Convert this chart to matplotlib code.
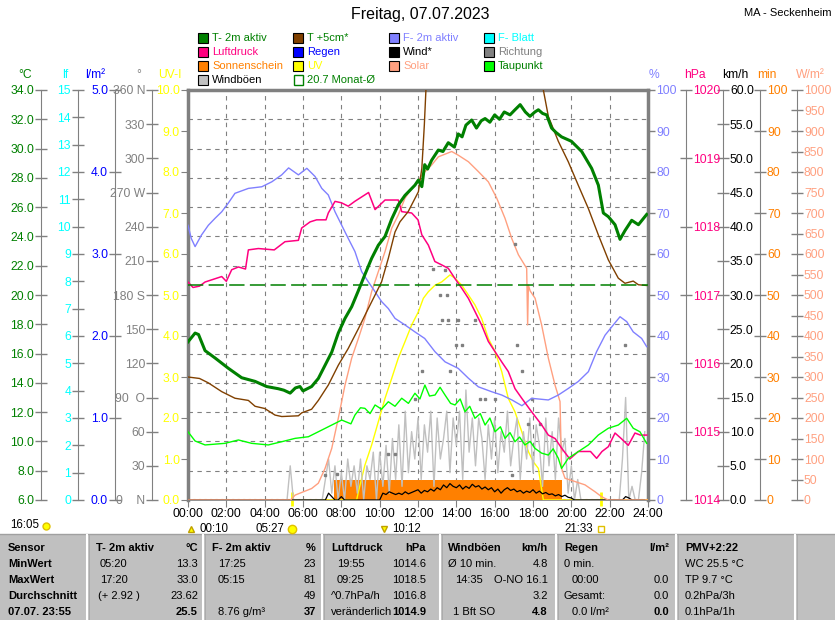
import numpy as np
import matplotlib
matplotlib.use("Agg")
import matplotlib.pyplot as plt
from matplotlib.patches import Rectangle
from matplotlib.ticker import FixedLocator

plt.rcParams["font.family"] = ["Liberation Sans", "DejaVu Sans"]

# --- Messwerte 07.07.2023 (Stunden, Werte) ---
t2m_h = [0.0, 0.37, 0.55, 0.89, 1.41, 2.1, 2.8, 3.5, 4.1, 4.71, 5.0, 5.33, 5.6, 5.84, 6.0,
         6.45, 6.8, 7.15, 7.5, 7.84, 8.19, 8.54, 8.89, 9.23, 9.58, 9.93, 10.28, 10.63, 10.97,
         11.32, 11.84, 12.02, 12.2, 12.35, 12.5, 12.71, 13.06, 13.3, 13.58, 13.9, 14.1, 14.3,
         14.5, 14.8, 15.05, 15.3, 15.5, 15.75, 16.0, 16.25, 16.5, 16.8, 17.06, 17.33, 17.6,
         17.84, 18.1, 18.28, 18.5, 18.71, 18.97, 19.2, 19.49, 20.0, 20.54, 21.06, 21.41, 21.67,
         21.93, 22.28, 22.54, 22.8, 23.15, 23.5, 23.93]
t2m = [16.8, 17.4, 17.3, 16.2, 15.7, 15.0, 14.35, 14.1, 13.75, 13.6, 13.5, 13.3, 13.65, 13.75,
       13.45, 13.75, 14.3, 15.2, 16.1, 17.4, 18.4, 19.2, 20.3, 21.4, 22.5, 23.4, 24.0, 25.2,
       26.15, 26.8, 27.5, 27.85, 27.4, 28.9, 28.6, 29.2, 29.9, 29.8, 30.4, 30.1, 31.0, 30.8,
       31.6, 31.95, 31.4, 31.9, 32.05, 31.8, 32.3, 32.0, 32.5, 32.3, 32.65, 33.0, 32.5, 32.2,
       32.5, 32.65, 32.4, 32.3, 31.4, 31.1, 30.8, 30.5, 29.8, 28.65, 27.5, 25.6, 25.35, 24.8,
       23.8, 24.4, 25.1, 24.8, 25.5]

t5_h = [0.0, 0.6, 1.06, 1.76, 2.45, 3.15, 3.5, 4.0, 4.54, 4.89, 5.76, 5.93, 6.45, 6.8, 7.32,
        7.84, 8.36, 8.89, 9.32, 9.76, 10.1, 10.45, 10.8, 11.06, 11.49, 12.02, 12.2, 12.33,
        12.42, 13.0, 14.0, 15.0, 16.0, 17.0, 18.0, 18.54, 18.8, 19.32, 19.84, 20.36, 20.89,
        21.41, 21.93, 22.45, 22.8, 23.23, 23.5, 23.93]
t5 = [14.4, 14.3, 14.0, 13.4, 12.95, 12.8, 12.4, 12.25, 11.8, 11.7, 11.75, 11.95, 12.2, 12.8,
      13.85, 15.2, 16.35, 17.7, 18.85, 20.0, 20.9, 22.5, 24.3, 25.0, 25.7, 27.05, 28.65, 31.6,
      34.2, 40.0, 44.0, 46.0, 46.0, 44.0, 40.0, 34.0, 32.2, 30.5, 29.1, 27.5, 25.9, 24.1,
      22.4, 21.15, 20.8, 20.95, 20.7, 20.65]

rh_h = [0.0, 0.17, 0.37, 0.7, 1.06, 1.41, 1.76, 2.1, 2.45, 3.15, 3.85, 4.37, 4.89, 5.25, 5.76,
        6.2, 6.63, 6.98, 7.32, 7.67, 8.02, 8.36, 8.71, 9.06, 9.41, 9.76, 10.1, 10.45, 10.8,
        11.32, 11.84, 12.35, 12.88, 13.41, 14.1, 14.63, 15.15, 15.85, 16.37, 16.9, 17.42,
        17.93, 18.8, 19.32, 19.84, 20.36, 20.89, 21.32, 21.76, 22.19, 22.54, 22.89, 23.23,
        23.67, 23.93]
rh = [67, 63.8, 61.8, 64.6, 67, 68.7, 70.3, 72.4, 74.8, 76, 76.4, 77.6, 79.3, 81, 79.3, 80.9,
      78.9, 76, 74.4, 70.3, 67, 63.8, 60.6, 55.7, 53.2, 50.8, 48.4, 46.7, 44.3, 42.7, 41.0,
      39.4, 36.2, 33.7, 32.1, 29.7, 27.6, 26.4, 25.6, 24.4, 23.0, 24.8, 24.4, 25.6, 27.2,
      28.9, 31.3, 36.2, 40.2, 42.7, 44.7, 43.5, 41.0, 39.4, 37.4]

p_h = [0.0, 0.26, 0.6, 0.89, 1.76, 2.0, 2.28, 2.63, 3.0, 3.15, 3.67, 4.5, 5.06, 5.76, 5.93,
       6.37, 6.71, 7.2, 7.32, 7.67, 8.0, 8.36, 8.7, 9.42, 9.76, 10.28, 10.97, 11.15, 11.67,
       12.0, 12.2, 12.54, 12.88, 13.24, 13.58, 13.93, 14.28, 14.63, 14.97, 15.32, 15.67,
       16.02, 16.37, 16.71, 17.06, 17.41, 17.93, 18.45, 18.8, 19.15, 19.49, 19.92, 20.36,
       21.0, 21.32, 21.6, 21.93, 22.28, 22.6, 22.97, 23.32, 23.6, 23.93]
p = [1017.19, 1017.11, 1017.13, 1017.19, 1017.27, 1017.2, 1017.37, 1017.41, 1017.38, 1017.66,
     1017.68, 1017.66, 1017.78, 1017.8, 1017.98, 1018.07, 1018.1, 1018.1, 1018.2, 1018.37,
     1018.35, 1018.3, 1018.37, 1018.5, 1018.25, 1018.39, 1018.39, 1018.22, 1018.2, 1018.1,
     1017.88, 1017.73, 1017.49, 1017.44, 1017.39, 1017.24, 1017.1, 1016.95, 1016.76,
     1016.56, 1016.32, 1016.17, 1016.02, 1015.88, 1015.63, 1015.49, 1015.29, 1015.1,
     1014.95, 1014.9, 1014.76, 1014.6, 1014.71, 1014.71, 1014.61, 1014.71, 1014.78,
     1014.98, 1014.9, 1014.8, 1014.98, 1014.95, 1014.95]

dp_h = [0.0, 0.37, 0.89, 1.93, 2.63, 3.32, 4.19, 4.89, 5.59, 6.28, 6.8, 7.5, 8.02, 8.5, 8.71,
        9.0, 9.23, 9.5, 9.76, 10.1, 10.45, 10.8, 11.15, 11.5, 11.84, 12.1, 12.36, 12.6, 12.89,
        13.15, 13.41, 13.7, 13.93, 14.2, 14.45, 14.7, 14.97, 15.25, 15.5, 15.75, 16.02, 16.3,
        16.54, 16.8, 17.06, 17.3, 17.58, 17.85, 18.1, 18.45, 18.8, 19.05, 19.32, 19.49,
        19.84, 20.36, 20.89, 21.41, 21.93, 22.45, 22.89, 23.23, 23.58, 23.93]
dp = [10.66, 10.03, 9.76, 9.87, 10.1, 9.87, 9.76, 9.98, 10.21, 10.32, 10.66, 11.12, 11.46,
      11.2, 11.8, 12.3, 12.26, 11.9, 12.49, 12.2, 12.71, 12.4, 12.95, 12.6, 13.29, 12.9,
      13.85, 13.1, 13.17, 13.7, 13.17, 12.6, 12.49, 12.9, 12.03, 12.4, 11.58, 11.9, 11.12,
      11.6, 10.66, 11.0, 10.21, 10.6, 9.98, 10.3, 9.76, 10.0, 9.53, 9.2, 9.07, 9.5, 8.85,
      8.16, 8.85, 9.3, 9.76, 10.44, 10.9, 11.12, 11.58, 10.9, 10.66, 9.87]

sol_h = [0.0, 5.35, 5.59, 6.45, 6.8, 7.15, 7.5, 7.84, 8.19, 8.54, 8.89, 9.23, 9.58, 9.93,
         10.28, 10.63, 10.97, 11.32, 11.67, 12.02, 12.2, 12.71, 13.06, 13.76, 14.1, 14.63,
         15.15, 15.67, 16.11, 16.54, 16.89, 17.24, 17.67, 17.72, 17.76, 17.85, 18.11, 18.45,
         18.8, 19.15, 19.41, 19.49, 19.67, 20.19, 20.71, 21.24, 21.58, 21.93, 24.0]
solar = [0, 0, 12, 28, 41, 77, 126, 199, 280, 346, 394, 443, 508, 557, 606, 663, 695, 736,
         760, 776, 793, 817, 837, 850, 841, 825, 801, 776, 736, 687, 638, 598, 565, 427, 524,
         510, 492, 427, 346, 280, 240, 77, 53, 45, 37, 20, 8, 0, 0]

uv_h = [0.0, 8.8, 8.89, 9.23, 9.58, 9.93, 10.28, 10.63, 10.97, 11.32, 11.67, 12.02, 12.28,
        12.54, 12.89, 13.24, 13.67, 13.93, 14.28, 14.63, 14.97, 15.32, 15.67, 16.02, 16.37,
        16.71, 17.06, 17.41, 17.76, 18.02, 18.28, 18.54, 24.0]
uv = [0, 0, 0.2, 0.85, 1.34, 1.91, 2.48, 2.97, 3.46, 3.86, 4.27, 4.59, 4.92, 5.08, 5.24, 5.32,
      5.49, 5.41, 5.24, 5.0, 4.76, 4.43, 3.94, 3.62, 3.13, 2.48, 2.15, 1.67, 1.18, 0.93, 0.77,
      0, 0]

# Windböen / Wind im 10-Minuten-Takt (km/h)
boeen = [0, 0, 0, 0, 0, 0,  0, 0, 0, 0, 0, 0,  0, 0, 0, 0, 0, 0,  0, 0, 0, 0, 0, 0,
         0, 0, 0, 0, 0, 0,  0, 0, 5, 0, 0, 0,  0, 0, 0, 0, 0, 0,  0, 3, 6, 1, 5, 0,
         4, 0, 6, 2, 5, 1,  6, 0, 5, 3, 7, 0,  7, 2, 8, 1, 9, 3,  11, 2, 13, 4, 10, 6,
         12, 3, 11, 7, 13, 2,  12, 6, 9, 13, 4, 12,  8, 13, 3, 16.1, 7, 12,
         5, 12, 9, 3, 11, 6,  12, 4, 10, 7, 13, 5,  9, 12, 3, 10, 6, 12,
         4, 11, 8, 2, 12, 5,  10, 3, 12, 7, 9, 1,  5, 0, 3, 0, 0, 0,
         0, 0, 0, 0, 0, 0,  0, 0, 0, 0, 6, 15,  0, 2, 0, 0, 4, 10]
wind = [0, 0, 0, 0, 0, 0,  0, 0, 0, 0, 0, 0,  0, 0, 0, 0, 0, 0,  0, 0, 0, 0, 0, 0,
        0, 0, 0, 0, 0, 0,  0, 0, 0, 0, 0, 0,  0, 0, 0, 0, 0, 0,  0, 0, 1, 0.5, 0, 0,
        0.5, 0, 0, 0, 0, 0,  0, 0, 0, 0, 0, 0,  0, 1, 0.8, 1.2, 1, 0.8,
        1, 0.8, 1.2, 0.9, 1.1, 1.3,  1.5, 1.0, 1.4, 1.2, 1.6, 1.3,
        1.8, 1.5, 2.2, 1.8, 2.4, 2.0,  1.8, 2.2, 1.6, 2.0, 1.7, 2.3,
        1.9, 2.1, 1.6, 1.9, 1.5, 1.8,  1.2, 1.6, 1.0, 1.5, 1.8, 1.4,
        1.6, 1.2, 1.4, 1.0, 1.3, 1.1,  1.5, 1.0, 1.3, 0.9, 1.1, 0.8,
        0.9, 0.6, 0.8, 0.5, 0.7, 0.4,  0.3, 0, 0, 0, 0, 0,
        0, 0, 0, 0, 0, 0,  0, 0, 0, 0, 0, 0.5,  0.3, 0, 0, 0, 0, 0]

richt_h = [7.15, 7.76, 10.45, 10.8, 11.84, 12.19, 12.8, 13.15, 13.24, 13.41, 13.5, 13.58, 13.67,
           14.0, 14.1, 14.28, 14.97, 15.23, 15.5, 16.02, 16.89, 17.06, 17.15, 17.41, 17.76,
           17.93, 18.37, 22.8]
richt = [22, 23, 40, 40, 89, 113, 203, 180, 158, 202, 180, 158, 113, 136, 158, 136, 158, 89,
         89, 89, 22, 225, 136, 113, 67, 89, 67, 136]

sonne_von, sonne_bis, sonne_min = 7.6, 19.5, 5.0
monat_mittel = 20.7

# Auf-/Untergänge
ereignis_h = [10 / 60, 5 + 27 / 60, 10 + 12 / 60, 21 + 33 / 60]
ereignis_txt = ["00:10", "05:27", "10:12", "21:33"]
ereignis_art = ["mond_auf", "sonne_auf", "mond_unter", "sonne_unter"]

# --- Farben ---
GRAU = "#808080"
C_T, C_T5, C_RH, C_LEAF = "#008000", "#804000", "#8080FF", "#00FFFF"
C_P, C_RAIN, C_WIND, C_DIR = "#FF0080", "#0000FF", "#000000", "#808080"
C_SUN, C_UV, C_SOLAR, C_DEW, C_GUST = "#FF8000", "#FFFF00", "#FFA080", "#00FF00", "#C0C0C0"
TICKFS = 8.7
EREIGNIS_Y = -0.071

W, H = 835, 620
fig = plt.figure(figsize=(W / 100, H / 100), dpi=100)
fig.patch.set_facecolor("white")

deco = fig.add_axes([0, 0, 1, 1])
deco.set_xlim(0, W)
deco.set_ylim(H, 0)
deco.axis("off")

ax = fig.add_axes([188 / W, 1 - 500 / H, 460 / W, 410 / H])
ax.set_xlim(0, 24)
ax.set_ylim(0, 10)
ax.set_xticks(range(0, 25, 2))
ax.set_xticklabels([f"{h:02d}:00" for h in range(0, 25, 2)])
ax.set_yticks(range(0, 11))
ax.set_yticklabels([f"{v:.1f}" for v in range(0, 11)])
ax.yaxis.set_minor_locator(FixedLocator(np.linspace(0, 10, 15)))
ax.tick_params(axis="x", colors=GRAU, labelcolor="black", length=5, labelsize=TICKFS, pad=0.5)
ax.tick_params(axis="y", which="major", colors=GRAU, labelcolor=C_UV, length=5,
               labelsize=TICKFS, pad=1)
ax.tick_params(axis="y", which="minor", length=0)
ax.grid(True, axis="x", which="major", color=GRAU, ls=(0, (4, 4)), lw=0.8)
ax.grid(True, axis="y", which="minor", color=GRAU, ls=(0, (4, 4)), lw=0.8)
for name in ["left", "top", "right"]:
    ax.spines[name].set_color(GRAU)
    ax.spines[name].set_linewidth(2.5)
ax.spines["bottom"].set_color(GRAU)
ax.spines["bottom"].set_linewidth(1.2)


def seitenachse(pos, seite, farbe, lo, hi, ticks, labels, laenge=8, richtung="inout"):
    a = ax.twinx()
    a.set_ylim(lo, hi)
    for s in a.spines.values():
        s.set_visible(False)
    sp = a.spines[seite]
    sp.set_visible(True)
    sp.set_position(("axes", pos))
    sp.set_color(GRAU)
    if seite == "left":
        a.yaxis.tick_left()
    else:
        a.yaxis.tick_right()
    a.set_yticks(ticks)
    a.set_yticklabels(labels)
    a.tick_params(axis="y", colors=GRAU, labelcolor=farbe, direction=richtung,
                  length=laenge, width=1, labelsize=TICKFS, pad=1)
    return a


def leer_achse(lo, hi):
    a = ax.twinx()
    a.set_ylim(lo, hi)
    a.axis("off")
    return a


# Sonnenschein (min)
ax_min = seitenachse(1.2435, "right", C_SUN, 0, 100, range(0, 101, 10),
                     [str(v) for v in range(0, 101, 10)])
ax_min.bar(sonne_von, sonne_min, width=sonne_bis - sonne_von, align="edge",
           color=C_SUN, lw=0)
ax_min.axhline(0, color=C_SUN, lw=1.5, ls=":")

# UV
ax_uv = leer_achse(0, 10)
ax_uv.plot(uv_h, uv, color=C_UV, lw=1)

# Wind / Böen (km/h)
ax_kmh = seitenachse(1.163, "right", "black", 0, 60, np.arange(0, 61, 5),
                     [f"{v:.1f}" for v in np.arange(0, 61, 5)])
t10 = np.arange(len(boeen)) / 6
ax_kmh.plot(t10, boeen, color=C_GUST, lw=1)
ax_kmh.plot(t10, wind, color=C_WIND, lw=0.9)

# Solar (W/m²)
ax_wm2 = seitenachse(1.3239, "right", C_SOLAR, 0, 1000, range(0, 1001, 50),
                     [str(v) for v in range(0, 1001, 50)])
ax_wm2.plot(sol_h, solar, color=C_SOLAR, lw=1)

# Richtung (°)
richt_lab = {360: "360 N", 270: "270 W", 180: "180 S", 90: "90  O", 0: "0    N"}
ax_deg = seitenachse(-0.0783, "left", GRAU, 0, 360, range(0, 361, 30),
                     [richt_lab.get(v, str(v)) for v in range(0, 361, 30)])
ax_deg.plot(richt_h, richt, ls="none", marker="s", ms=1.8, color=C_DIR)

# Feuchte (%)
ax_pct = seitenachse(1.0, "right", C_RH, 0, 100, range(0, 101, 10),
                     [str(v) for v in range(0, 101, 10)], laenge=5, richtung="out")
ax_pct.spines["right"].set_visible(False)
ax_pct.plot(rh_h, rh, color=C_RH, lw=1)

# Luftdruck (hPa)
ax_hpa = seitenachse(1.0826, "right", C_P, 1014, 1020, range(1014, 1021),
                     [str(v) for v in range(1014, 1021)])
ax_hpa.plot(p_h, p, color=C_P, lw=1.1)

# Blattfeuchte (lf), Regen (l/m²) - keine Werte an diesem Tag
ax_lf = seitenachse(-0.2391, "left", C_LEAF, 0, 15, range(0, 16),
                    [str(v) for v in range(0, 16)])
ax_lm2 = seitenachse(-0.1587, "left", C_RAIN, 0, 5, range(0, 6),
                     [f"{v:.1f}" for v in range(0, 6)])

# Temperaturen (°C)
ax_c = seitenachse(-0.3196, "left", C_T, 6, 34, np.arange(6, 35, 2),
                   [f"{v:.1f}" for v in np.arange(6, 35, 2)])
ax_c.plot(dp_h, dp, color=C_DEW, lw=1)
ax_c.plot(t5_h, t5, color=C_T5, lw=1)
ax_c.axhline(monat_mittel, color=C_T, lw=1.1, dashes=(10, 3.5))
ax_c.plot(t2m_h, t2m, color=C_T, lw=2.2)

# Auf-/Untergänge unter der Zeitachse
xt = ax.get_xaxis_transform()
for h, txt, art in zip(ereignis_h, ereignis_txt, ereignis_art):
    if art.startswith("sonne"):
        ax.vlines(h, -0.015, 0.02, color=C_UV, lw=2, transform=xt, clip_on=False)
        marker = "o" if art == "sonne_auf" else "s"
        ax.plot(h, EREIGNIS_Y, marker=marker, ms=6 if marker == "o" else 4, transform=xt,
                clip_on=False, color=C_UV, mfc=C_UV if marker == "o" else "white",
                mec="#E0C000")
        ax.annotate(txt, (h, EREIGNIS_Y), xycoords=xt, xytext=(-6, 0),
                    textcoords="offset points", ha="right", va="center", fontsize=8.3)
    else:
        marker = "^" if art == "mond_auf" else "v"
        ax.plot(h, EREIGNIS_Y, marker=marker, ms=5, transform=xt, clip_on=False,
                color=C_UV, mec="#C0A000")
        ax.annotate(txt, (h, EREIGNIS_Y), xycoords=xt, xytext=(6, 0),
                    textcoords="offset points", ha="left", va="center", fontsize=8.3)

deco.text(10, 525, "16:05", fontsize=8.3, va="center")
deco.plot(46, 526, marker="o", ms=5, color=C_UV, mec="#E0C000")

# --- Titel ---
deco.text(420, 15, "Freitag, 07.07.2023", fontsize=11.5, ha="center", va="center")
deco.text(832, 13, "MA - Seckenheim", fontsize=8, ha="right", va="center")

# --- Einheiten ---
for x, txt, c in [(25, "°C", C_T), (65, "lf", C_LEAF), (95, "l/m²", C_RAIN),
                  (139, "°", GRAU), (170, "UV-I", C_UV), (654, "%", C_RH),
                  (695, "hPa", C_P), (735, "km/h", "black"), (767, "min", C_SUN),
                  (810, "W/m²", C_SOLAR)]:
    deco.text(x, 75, txt, color=c, fontsize=TICKFS, ha="center", va="center")

# --- Legende ---
legende = [
    (198, 38, "T- 2m aktiv", C_T, C_T), (293, 38, "T +5cm*", C_T5, C_T),
    (389, 38, "F- 2m aktiv", C_RH, C_RH), (484, 38, "F- Blatt", C_LEAF, C_LEAF),
    (198, 52, "Luftdruck", C_P, C_P), (293, 52, "Regen", C_RAIN, C_RAIN),
    (389, 52, "Wind*", C_WIND, "black"), (484, 52, "Richtung", C_DIR, C_DIR),
    (198, 66, "Sonnenschein", C_SUN, C_SUN), (293, 66, "UV", C_UV, C_UV),
    (389, 66, "Solar", C_SOLAR, C_SOLAR), (484, 66, "Taupunkt", C_DEW, C_T),
    (198, 80, "Windböen", C_GUST, "black"),
]
for x, y, txt, fc, tc in legende:
    deco.add_patch(Rectangle((x, y - 5), 10, 10, fc=fc, ec="black", lw=0.8))
    deco.text(x + 14, y, txt, color=tc, fontsize=8, va="center")
deco.add_patch(Rectangle((294, 75), 9, 10, fc="none", ec=C_T, lw=1))
deco.text(307, 80, f"{monat_mittel} Monat-Ø", color=C_T, fontsize=8, va="center")

# --- Tabelle ---
deco.add_patch(Rectangle((0, 534), W, 86, fc="#C0C0C0", ec="none"))
deco.plot([0, W], [533.5, 533.5], color="#A0A0A0", lw=1)
for x in [87, 203, 322, 440, 556, 676, 795]:
    deco.plot([x, x], [535, H], color="white", lw=1.5)
    deco.plot([x + 1.5, x + 1.5], [535, H], color="#A8A8A8", lw=0.6)

zeilen_y = [548, 564, 580, 596, 612]
links = [
    [(8, "Sensor", True), (8, "MinWert", True), (8, "MaxWert", True),
     (8, "Durchschnitt", True), (8, "07.07. 23:55", True)],
    [(96, "T- 2m aktiv", True), (100, "05:20", False), (100, "17:20", False),
     (98, "(+ 2.92 )", False), (98, "", False)],
    [(212, "F- 2m aktiv", True), (218, "17:25", False), (218, "05:15", False),
     (218, "", False), (218, "8.76 g/m³", False)],
    [(331, "Luftdruck", True), (337, "19:55", False), (337, "09:25", False),
     (331, "^0.7hPa/h", False), (331, "veränderlich", False)],
    [(448, "Windböen", True), (448, "Ø 10 min.", False), (455, "14:35", False),
     (448, "", False), (453, "1 Bft SO", False)],
    [(564, "Regen", True), (564, "0 min.", False), (572, "00:00", False),
     (564, "Gesamt:", False), (572, "0.0 l/m²", False)],
    [(685, "PMV+2:22", True), (685, "WC 25.5 °C", False), (685, "TP 9.7 °C", False),
     (685, "0.2hPa/3h", False), (685, "0.1hPa/1h", False)],
]
rechts = [
    (198, ["°C", "13.3", "33.0", "23.62", "25.5"]),
    (316, ["%", "23", "81", "49", "37"]),
    (426, ["hPa", "1014.6", "1018.5", "1016.8", "1014.9"]),
    (548, ["km/h", "4.8", "O-NO 16.1", "3.2", "4.8"]),
    (669, ["l/m²", "", "0.0", "0.0", "0.0"]),
]
for spalte in links:
    for (x, txt, fett), y in zip(spalte, zeilen_y):
        deco.text(x, y, txt, fontsize=8, va="center",
                  fontweight="bold" if fett else "normal")
for x, werte in rechts:
    for i, (txt, y) in enumerate(zip(werte, zeilen_y)):
        fett = i in (0, 4)
        deco.text(x, y, txt, fontsize=8, va="center", ha="right",
                  fontweight="bold" if fett else "normal")

fig.savefig("out.png", dpi=100, facecolor="white")
